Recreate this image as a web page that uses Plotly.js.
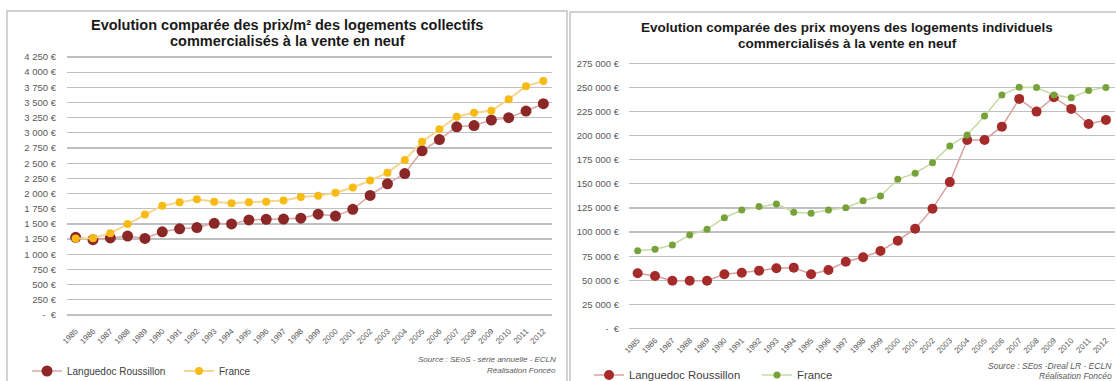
<!DOCTYPE html>
<html>
<head>
<meta charset="utf-8">
<script src="https://cdn.plot.ly/plotly-3.0.1.min.js"></script>
<style>
  html, body { margin: 0; padding: 0; background: #ffffff; overflow: hidden; }
  #chart { width: 1116px; height: 400px; }
</style>
</head>
<body>
<div id="chart"></div>
<script>
// Années de commercialisation
const years = ['1985','1986','1987','1988','1989','1990','1991','1992','1993','1994',
  '1995','1996','1997','1998','1999','2000','2001','2002','2003','2004',
  '2005','2006','2007','2008','2009','2010','2011','2012'];

// Prix au m² des logements collectifs (€)
const collectifLR = [1280,1240,1270,1300,1260,1370,1420,1440,1510,1500,
  1565,1575,1580,1595,1660,1630,1740,1970,2160,2330,
  2705,2890,3100,3120,3210,3250,3360,3480];
const collectifFrance = [1260,1265,1345,1500,1655,1800,1855,1905,1865,1840,
  1855,1865,1885,1945,1965,2015,2100,2215,2345,2555,
  2855,3060,3265,3330,3365,3555,3770,3855];

// Prix moyens des logements individuels (€)
const individuelLR = [57300,54500,49600,49600,49600,56200,57900,60000,62400,63100,
  56200,60700,69300,73900,80400,91100,103500,124300,151800,195500,
  195500,209300,238100,224900,239800,227700,212100,216300];
const individuelFrance = [80700,82200,86600,97000,102900,114900,122900,126400,129200,120500,
  119500,122900,125300,132400,137400,154700,161000,172000,189300,200700,
  220400,242200,250200,249800,242200,239400,246700,249800];

// Graduations des axes
const collectifTicks = [0,250,500,750,1000,1250,1500,1750,2000,2250,2500,2750,3000,3250,3500,3750,4000,4250];
const collectifTickText = ['-  €','250 €','500 €','750 €','1 000 €','1 250 €','1 500 €','1 750 €','2 000 €',
  '2 250 €','2 500 €','2 750 €','3 000 €','3 250 €','3 500 €','3 750 €','4 000 €','4 250 €'];
const individuelTicks = [0,25000,50000,75000,100000,125000,150000,175000,200000,225000,250000,275000];
const individuelTickText = ['-  €','25 000 €','50 000 €','75 000 €','100 000 €','125 000 €','150 000 €',
  '175 000 €','200 000 €','225 000 €','250 000 €','275 000 €'];

// Textes
const titreCollectif = ['Evolution comparée des prix/m² des logements collectifs', 'commercialisés à la vente en neuf'];
const titreIndividuel = ['Evolution comparée des prix moyens des logements individuels', 'commercialisés à la vente en neuf'];
const sourceCollectif = ['Source : SEoS - série annuelle - ECLN', 'Réalisation Foncéo'];
const sourceIndividuel = ['Source : SEos -Dreal LR - ECLN', 'Réalisation Foncéo'];

// La figure dépasse un peu la fenêtre en bas pour laisser respirer les légendes
const W = 1116, H = 400;
const px = x => x / W;          // pixel -> paper x
const py = y => (H - y) / H;    // pixel (from top) -> paper y

const FONT = 'Liberation Sans, Arial, sans-serif';
const GRID = '#c0c0c0';
const TICK_FONT = { family: FONT, size: 9.5, color: '#595959' };
const XTICK_FONT = { family: FONT, size: 8, color: '#595959' };

const traces = [
  {
    x: years, y: collectifLR, name: 'Languedoc Roussillon', type: 'scatter', mode: 'lines+markers',
    xaxis: 'x', yaxis: 'y', legend: 'legend',
    line: { color: '#dca5a5', width: 1.5 },
    marker: { color: '#8c2727', size: 11 }
  },
  {
    x: years, y: collectifFrance, name: 'France', type: 'scatter', mode: 'lines+markers',
    xaxis: 'x', yaxis: 'y', legend: 'legend',
    line: { color: '#f6d590', width: 2 },
    marker: { color: '#f8bb16', size: 8 }
  },
  {
    x: years, y: individuelLR, name: 'Languedoc Roussillon', type: 'scatter', mode: 'lines+markers',
    xaxis: 'x2', yaxis: 'y2', legend: 'legend2',
    line: { color: '#d9a0a0', width: 1.5 },
    marker: { color: '#a52b2b', size: 10 }
  },
  {
    x: years, y: individuelFrance, name: 'France', type: 'scatter', mode: 'lines+markers',
    xaxis: 'x2', yaxis: 'y2', legend: 'legend2',
    line: { color: '#c6dba2', width: 1.5 },
    marker: { color: '#77a23a', size: 7 }
  }
];

function textLine(text, x, y, anchor, font) {
  return { xref: 'paper', yref: 'paper', x: px(x), y: py(y), xanchor: anchor, yanchor: 'middle',
    showarrow: false, text: text, font: font };
}

const TITLE_FONT_L = { family: FONT, size: 14.5, color: '#1a1a1a' };
const TITLE_FONT_R = { family: FONT, size: 13.5, color: '#1a1a1a' };
const SRC_FONT_L = { family: FONT, size: 8, color: '#595959' };
const SRC_FONT_R = { family: FONT, size: 8.5, color: '#595959' };

const layout = {
  width: W, height: H,
  margin: { l: 0, r: 0, t: 0, b: 0 },
  paper_bgcolor: '#ffffff', plot_bgcolor: '#ffffff',
  font: { family: FONT, color: '#404040' },
  showlegend: true,
  xaxis: {
    type: 'category', categoryarray: years, range: [-0.5, 27.5],
    domain: [px(67), px(552)], anchor: 'y',
    showgrid: false, zeroline: false, showline: false, ticks: '',
    tickangle: -45, tickfont: XTICK_FONT, ticklabelstandoff: 6, fixedrange: true
  },
  yaxis: {
    range: [-50, 4300], domain: [py(318.0), py(53.96)], anchor: 'x',
    tickvals: collectifTicks, ticktext: collectifTickText,
    showgrid: true, gridcolor: GRID, gridwidth: 1.2, zeroline: false, showline: false,
    ticks: '', tickfont: TICK_FONT, ticklabelstandoff: 10, fixedrange: true
  },
  xaxis2: {
    type: 'category', categoryarray: years, range: [-0.5, 27.5],
    domain: [px(629), px(1114.6)], anchor: 'y2',
    showgrid: false, zeroline: false, showline: false, ticks: '',
    tickangle: -45, tickfont: XTICK_FONT, ticklabelstandoff: 2, fixedrange: true
  },
  yaxis2: {
    range: [-3000, 278000], domain: [py(331.4), py(60.4)], anchor: 'x2',
    tickvals: individuelTicks, ticktext: individuelTickText,
    showgrid: true, gridcolor: GRID, gridwidth: 1.2, zeroline: false, showline: false,
    ticks: '', tickfont: TICK_FONT, ticklabelstandoff: 9, fixedrange: true
  },
  legend: {
    orientation: 'h', x: px(27), y: py(371), xanchor: 'left', yanchor: 'middle',
    font: { family: FONT, size: 10, color: '#404040' },
    bgcolor: 'rgba(0,0,0,0)', entrywidth: 107, itemwidth: 30, traceorder: 'normal'
  },
  legend2: {
    orientation: 'h', x: px(589), y: py(375), xanchor: 'left', yanchor: 'middle',
    font: { family: FONT, size: 11.3, color: '#404040' },
    bgcolor: 'rgba(0,0,0,0)', entrywidth: 123, itemwidth: 30, traceorder: 'normal'
  },
  shapes: [
    { type: 'rect', xref: 'paper', yref: 'paper', x0: px(7), x1: px(567), y0: -0.2, y1: py(11),
      line: { color: '#c4c4c4', width: 1.5 }, fillcolor: 'rgba(0,0,0,0)', layer: 'below' },
    { type: 'rect', xref: 'paper', yref: 'paper', x0: px(570), x1: 1.2, y0: -0.2, y1: py(12),
      line: { color: '#c4c4c4', width: 1.5 }, fillcolor: 'rgba(0,0,0,0)', layer: 'below' }
  ],
  annotations: [
    textLine('<b>' + titreCollectif[0] + '</b>', 287, 25, 'center', TITLE_FONT_L),
    textLine('<b>' + titreCollectif[1] + '</b>', 287, 41, 'center', TITLE_FONT_L),
    textLine('<b>' + titreIndividuel[0] + '</b>', 847, 27, 'center', TITLE_FONT_R),
    textLine('<b>' + titreIndividuel[1] + '</b>', 847, 43, 'center', TITLE_FONT_R),
    textLine('<i>' + sourceCollectif[0] + '</i>', 558, 359, 'right', SRC_FONT_L),
    textLine('<i>' + sourceCollectif[1] + '</i>', 558, 370, 'right', SRC_FONT_L),
    textLine('<i>' + sourceIndividuel[0] + '</i>', 1114, 366, 'right', SRC_FONT_R),
    textLine('<i>' + sourceIndividuel[1] + '</i>', 1114, 376, 'right', SRC_FONT_R)
  ]
};

Plotly.newPlot('chart', traces, layout, { displayModeBar: false, staticPlot: true });
</script>
</body>
</html>
